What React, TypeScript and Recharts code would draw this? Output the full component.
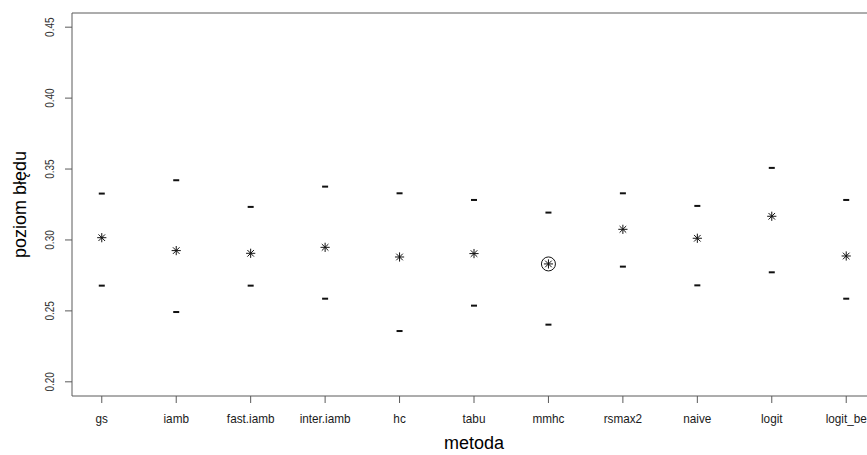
import React from 'react';
import { ScatterChart, Scatter, XAxis, YAxis, ReferenceLine } from 'recharts';

const methods = ['gs', 'iamb', 'fast.iamb', 'inter.iamb', 'hc', 'tabu', 'mmhc', 'rsmax2', 'naive', 'logit', 'logit_be'];
const meanError = [0.3016, 0.2925, 0.2906, 0.2948, 0.2880, 0.2904, 0.2831, 0.3075, 0.3012, 0.3167, 0.2887];
const upperError = [0.3327, 0.3421, 0.3233, 0.3376, 0.3329, 0.3282, 0.3193, 0.3329, 0.3240, 0.3508, 0.3282];
const lowerError = [0.2678, 0.2492, 0.2678, 0.2586, 0.2358, 0.2537, 0.2403, 0.2812, 0.2680, 0.2772, 0.2586];
const highlighted = ['mmhc'];
const yTicks = [0.2, 0.25, 0.3, 0.35, 0.4, 0.45];
const yDomain = [0.19, 0.46];
const xDomain = [0.6, 11.4];

const xTicks = methods.map((_, i) => i + 1);
const toPoints = (vals: number[]) => methods.map((m, i) => ({ x: i + 1, y: vals[i], name: m }));
const upperData = toPoints(upperError);
const lowerData = toPoints(lowerError);
const meanData = toPoints(meanError);
const highlightData = meanData.filter((d) => highlighted.includes(d.name));

const FONT = '"Liberation Sans", Arial, sans-serif';
const BOX = '#5a5a5a';

const Dash = (props: any) => {
  const { cx, cy } = props;
  if (cx == null || cy == null) return null;
  return <rect x={cx - 3} y={cy - 1} width={6} height={2} fill="#111" />;
};

const Asterisk = (props: any) => {
  const { cx, cy } = props;
  if (cx == null || cy == null) return null;
  const p = 4.6;
  const d = 3.3;
  return (
    <g stroke="#111" strokeWidth={1} fill="none">
      <line x1={cx - p} y1={cy} x2={cx + p} y2={cy} />
      <line x1={cx} y1={cy - p} x2={cx} y2={cy + p} />
      <line x1={cx - d} y1={cy - d} x2={cx + d} y2={cy + d} />
      <line x1={cx - d} y1={cy + d} x2={cx + d} y2={cy - d} />
    </g>
  );
};

const Ring = (props: any) => {
  const { cx, cy } = props;
  if (cx == null || cy == null) return null;
  return <circle cx={cx} cy={cy} r={7} stroke="#111" strokeWidth={1} fill="none" />;
};

const XTick = (props: any) => {
  const { x, y, payload } = props;
  const label = methods[Math.round(payload.value) - 1] ?? '';
  return (
    <text
      transform={`translate(${x},${y + 18}) scale(0.87,1)`}
      textAnchor="middle"
      fontFamily={FONT}
      fontSize={13.5}
      fill="#1a1a1a"
    >
      {label}
    </text>
  );
};

const YTick = (props: any) => {
  const { x, y, payload } = props;
  return (
    <text
      transform={`translate(${x - 9},${y}) rotate(-90) scale(0.8,1)`}
      textAnchor="middle"
      fontFamily={FONT}
      fontSize={12.5}
      fill="#333"
    >
      {Number(payload.value).toFixed(2)}
    </text>
  );
};

const YTitle = (props: any) => {
  const vb = props.viewBox || { x: 0, y: 13, width: 72, height: 383 };
  const cy = vb.y + vb.height / 2;
  return (
    <text
      transform={`translate(${vb.x + 26},${cy}) rotate(-90)`}
      textAnchor="middle"
      fontFamily={FONT}
      fontSize={18}
      fill="#000"
    >
      poziom błędu
    </text>
  );
};

const XTitle = (props: any) => {
  const vb = props.viewBox || { x: 72, y: 396, width: 804, height: 59 };
  return (
    <text
      x={vb.x + vb.width / 2}
      y={vb.y + 53}
      textAnchor="middle"
      fontFamily={FONT}
      fontSize={18}
      fill="#000"
    >
      metoda
    </text>
  );
};

export default function App() {
  return (
    <div
      style={{
        position: 'fixed',
        left: 0,
        top: 0,
        width: 867,
        height: 455,
        overflow: 'hidden',
        background: '#fff',
      }}
    >
      <ScatterChart
        width={890}
        height={455}
        margin={{ top: 13, right: 14, bottom: 0, left: 0 }}
        style={{ fontFamily: FONT }}
      >
        <XAxis
          type="number"
          dataKey="x"
          domain={xDomain}
          ticks={xTicks}
          interval={0}
          allowDataOverflow
          height={59}
          tickSize={7}
          tickMargin={2}
          stroke={BOX}
          tickLine={{ stroke: BOX }}
          axisLine={{ stroke: BOX }}
          tick={<XTick />}
          label={{ content: <XTitle /> }}
        />
        <YAxis
          type="number"
          dataKey="y"
          domain={yDomain}
          ticks={yTicks}
          interval={0}
          allowDataOverflow
          width={72}
          tickSize={7}
          tickMargin={2}
          stroke={BOX}
          tickLine={{ stroke: BOX }}
          axisLine={{ stroke: BOX }}
          tick={<YTick />}
          label={{ content: <YTitle /> }}
        />
        <ReferenceLine y={yDomain[1]} stroke={BOX} ifOverflow="extendDomain" />
        <ReferenceLine x={xDomain[1]} stroke={BOX} ifOverflow="extendDomain" />
        <Scatter data={upperData} shape={<Dash />} isAnimationActive={false} />
        <Scatter data={lowerData} shape={<Dash />} isAnimationActive={false} />
        <Scatter data={meanData} shape={<Asterisk />} isAnimationActive={false} />
        <Scatter data={highlightData} shape={<Ring />} isAnimationActive={false} />
      </ScatterChart>
    </div>
  );
}
